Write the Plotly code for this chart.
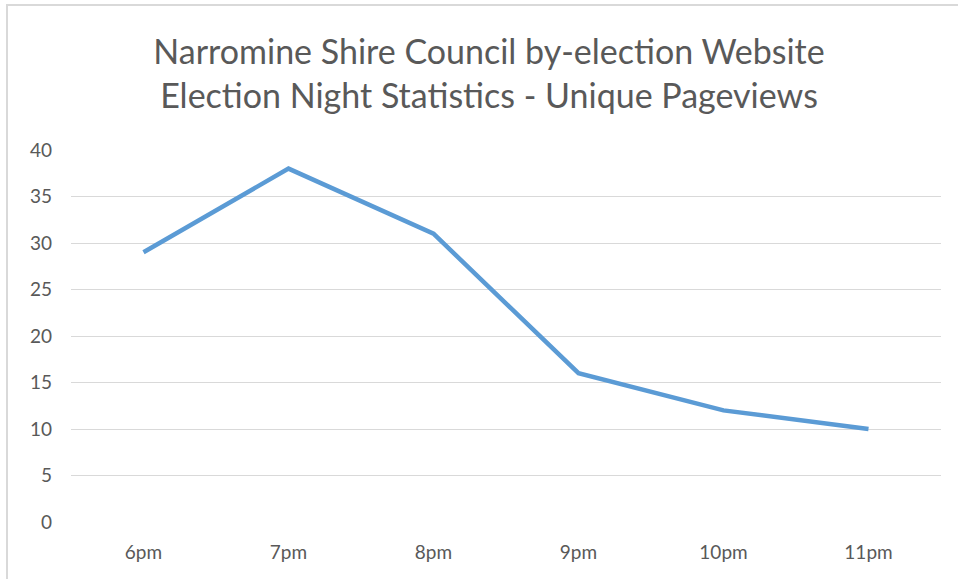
import plotly.graph_objects as go

categories = ["6pm", "7pm", "8pm", "9pm", "10pm", "11pm"]
pageviews = [29, 38, 31, 16, 12, 10]
y_ticks = [0, 5, 10, 15, 20, 25, 30, 35, 40]

W, H = 958, 579
ML, MR, MT, MB = 71, 17, 150, 57
pw, ph = W - ML - MR, H - MT - MB

def px_x(x):
    return (x - ML) / pw

def px_y(y):
    return (H - MB - y) / ph

fig = go.Figure()
fig.add_trace(go.Scatter(
    x=categories, y=pageviews, mode="lines",
    line=dict(color="#5B9BD5", width=4.5),
    hoverinfo="x+y",
))

fig.update_layout(
    width=W, height=H,
    margin=dict(l=ML, r=MR, t=MT, b=MB),
    paper_bgcolor="white", plot_bgcolor="white",
    showlegend=False,
    title=dict(
        text="Narromine Shire Council by-election Website<br>Election Night Statistics - Unique Pageviews",
        x=489 / W, xanchor="center", xref="container",
        y=1 - 64 / H, yanchor="middle", yref="container",
        font=dict(family="Lato, Calibri, sans-serif", size=34, color="#595959"),
    ),
    font=dict(family="Lato, Calibri, sans-serif", size=19, color="#595959"),
    xaxis=dict(
        type="category", range=[-0.5, len(categories) - 0.5],
        showgrid=False, zeroline=False, showline=False,
        ticks="", ticklabelstandoff=17,
        tickfont=dict(size=19, color="#595959"),
    ),
    yaxis=dict(
        range=[0, 40], tickvals=y_ticks, showgrid=True, gridcolor="#D9D9D9",
        gridwidth=1, zeroline=False, showline=False, ticks="",
        ticklabelstandoff=18,
        tickfont=dict(size=19, color="#595959"),
    ),
    shapes=[
        dict(type="line", xref="paper", yref="paper",
             x0=px_x(6), x1=px_x(960), y0=px_y(5), y1=px_y(5),
             line=dict(color="#D9D9D9", width=2)),
        dict(type="line", xref="paper", yref="paper",
             x0=px_x(7), x1=px_x(7), y0=px_y(4), y1=px_y(582),
             line=dict(color="#D9D9D9", width=2)),
    ],
)

fig.write_html(
    "out.html",
    config={"displayModeBar": False},
    post_script="document.body.style.margin='0';document.body.style.overflow='hidden';",
)
